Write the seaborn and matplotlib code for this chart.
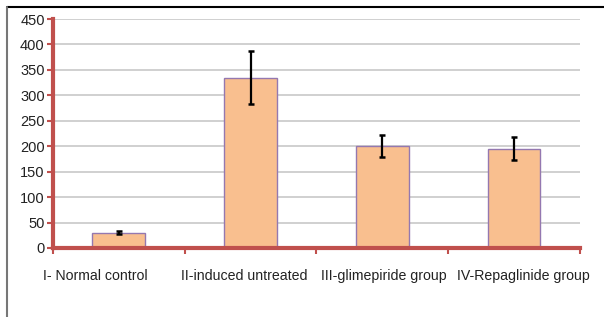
import matplotlib
matplotlib.use("Agg")
import matplotlib.pyplot as plt
import matplotlib.transforms as mtransforms
from matplotlib.lines import Line2D
import numpy as np
import pandas as pd
import seaborn as sns

groups = ["I- Normal control", "II-induced untreated", "III-glimepiride group", "IV-Repaglinide group"]
means = [30, 335, 201, 195]
errors = [3, 52, 22, 23]
yticks = [0, 50, 100, 150, 200, 250, 300, 350, 400, 450]

sns.set_theme(style="white")
plt.rcParams["font.family"] = ["Liberation Sans", "DejaVu Sans"]

df = pd.DataFrame({"group": groups, "value": means})

fig = plt.figure(figsize=(6.04, 3.17), dpi=100)
ax = fig.add_axes([0.0877, 0.2177, 0.8723, 0.7223])

sns.barplot(data=df, x="group", y="value", color="#f9bf8f", width=0.40,
            edgecolor="#9478b0", linewidth=1.0, saturation=1, ax=ax, zorder=2)
ax.errorbar(np.arange(len(groups)), means, yerr=errors, fmt="none",
            ecolor="black", elinewidth=1.6, capsize=2.5, capthick=1.8, zorder=3)

ax.set_xlim(-0.5, len(groups) - 0.5)
ax.set_ylim(0, 450)
ax.set_yticks(yticks)
ax.set_xticks(np.arange(len(groups) + 1) - 0.5, minor=True)
ax.set_xticks(np.arange(len(groups)))
ax.set_xticklabels(groups)
ax.set_xlabel("")
ax.set_ylabel("")

ax.yaxis.grid(True, color="#c8c8c8", linewidth=1.2, zorder=0)
ax.set_axisbelow(True)

red = "#c0504d"
for side in ["top", "right"]:
    ax.spines[side].set_visible(False)
for side in ["left", "bottom"]:
    ax.spines[side].set_color(red)
    ax.spines[side].set_linewidth(3)

ax.tick_params(axis="y", which="major", left=True, length=4, width=1.5, color=red,
               labelsize=10.5, labelcolor="#222222", pad=2)
ax.tick_params(axis="x", which="major", bottom=False, labelsize=10.2,
               labelcolor="#222222", pad=9)
ax.tick_params(axis="x", which="minor", bottom=True, length=4, width=1.5, color=red)

# Excel-style label placement: labels drift within their category
shifts = [-24, -6, 2, 9]
for lab, dx in zip(ax.get_xticklabels(), shifts):
    lab.set_transform(lab.get_transform() + mtransforms.ScaledTranslation(dx / 100, 0, fig.dpi_scale_trans))

fig.add_artist(Line2D([7 / 604, 1], [1 - 7 / 317, 1 - 7 / 317], color="black", linewidth=1.5))
fig.add_artist(Line2D([7 / 604, 7 / 604], [0, 1 - 7 / 317], color="#777777", linewidth=1.5))

fig.savefig("out.png", dpi=100)
